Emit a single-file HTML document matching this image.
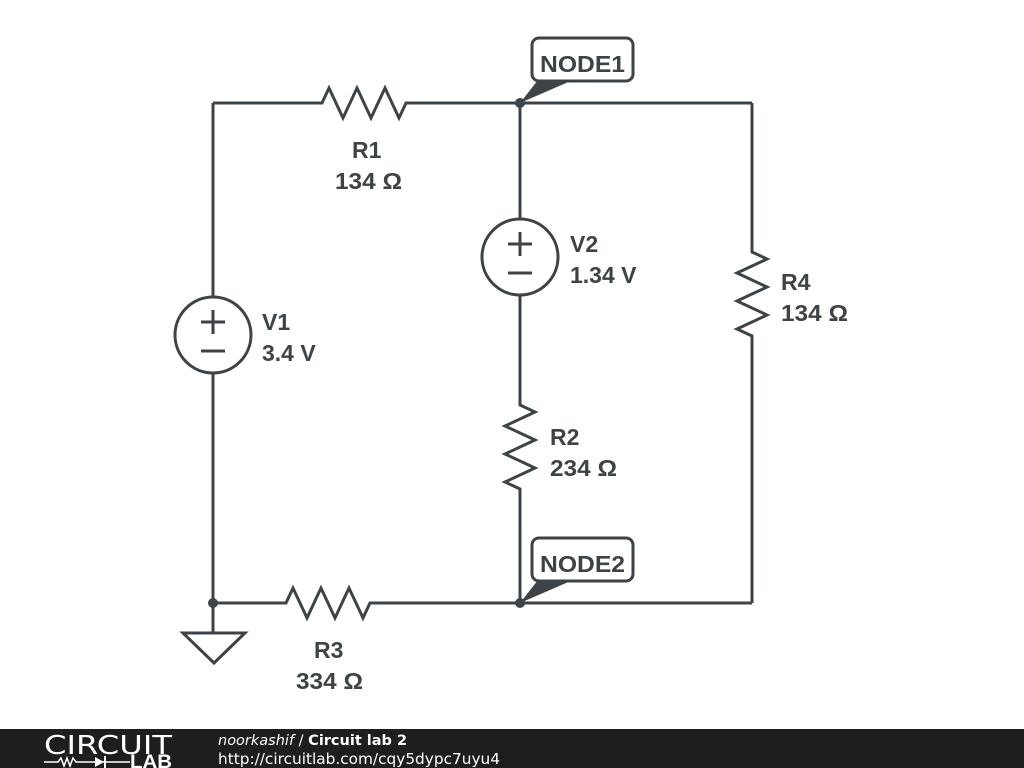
<!DOCTYPE html>
<html><head><style>
body{margin:0;width:1024px;height:768px;background:#fff;overflow:hidden;position:relative;font-family:"Liberation Sans",sans-serif}
svg{position:absolute;left:0;top:0}
</style></head><body>
<svg width="1024" height="768" viewBox="0 0 1024 768">
<g stroke="#3d4347" stroke-width="3" fill="none" stroke-linejoin="miter">
<polyline points="213,103 322,103 329,88 343,118 357,88 371,118 385,88 399,118 406,103 752,103"/>
<line x1="213" y1="103" x2="213" y2="297"/>
<circle cx="213" cy="335" r="38"/>
<line x1="213" y1="373" x2="213" y2="633"/>
<polygon points="183,633 245,633 214,663"/>
<polyline points="213,603 286,603 293,588 307,618 321,588 335,618 349,588 363,618 370,603 752,603"/>
<line x1="520" y1="103" x2="520" y2="219"/>
<circle cx="520" cy="257" r="38"/>
<polyline points="520,295 520,405 535,412 505,426 535,440 505,454 535,468 505,482 520,489 520,603"/>
<polyline points="752,103 752,252 767,259 737,273 767,287 737,301 767,315 737,329 752,336 752,603"/>
<line x1="201" y1="322" x2="225" y2="322"/><line x1="213" y1="310" x2="213" y2="334"/>
<line x1="201" y1="351" x2="225" y2="351"/>
<line x1="508" y1="244" x2="532" y2="244"/><line x1="520" y1="232" x2="520" y2="256"/>
<line x1="508" y1="273" x2="532" y2="273"/>
<rect x="532" y="38" width="101" height="43" rx="7" fill="#fff"/>
<rect x="532" y="538" width="101" height="43" rx="7" fill="#fff"/>
</g>
<g fill="#3d4347">
<circle cx="213" cy="603" r="5"/>
<circle cx="520" cy="103" r="5"/>
<circle cx="520" cy="603" r="5"/>
<polygon points="520,103 538,80 573,80"/>
<polygon points="520,603 538,580 573,580"/>
</g>
<g fill="#3d4347" font-family="Liberation Sans,sans-serif" font-weight="bold" font-size="23">
<text x="540" y="72" textLength="85" lengthAdjust="spacingAndGlyphs">NODE1</text>
<text x="540" y="572" textLength="85" lengthAdjust="spacingAndGlyphs">NODE2</text>
<text x="352" y="158">R1</text><text x="335" y="189" textLength="67" lengthAdjust="spacingAndGlyphs">134 Ω</text>
<text x="262" y="330">V1</text><text x="262" y="361">3.4 V</text>
<text x="570" y="252">V2</text><text x="570" y="283">1.34 V</text>
<text x="781" y="290">R4</text><text x="781" y="321" textLength="67" lengthAdjust="spacingAndGlyphs">134 Ω</text>
<text x="550" y="445">R2</text><text x="550" y="476" textLength="67" lengthAdjust="spacingAndGlyphs">234 Ω</text>
<text x="314" y="658">R3</text><text x="296" y="689" textLength="67" lengthAdjust="spacingAndGlyphs">334 Ω</text>
</g>
<rect x="0" y="729" width="1024" height="39" fill="#1e1e1e"/>
<text x="44" y="754" fill="#fff" font-family="DejaVu Sans,sans-serif" font-size="26" font-weight="normal" textLength="128" lengthAdjust="spacingAndGlyphs">CIRCUIT</text>
<g stroke="#fff" stroke-width="1.5" fill="none">
<polyline points="44,762 58,762 61,758 64,766 67,758 70,766 73,758 76,762 85,762"/>
<line x1="85" y1="762" x2="130" y2="762"/>
</g>
<polygon points="95,757 95,767 104,762" fill="#fff"/>
<rect x="104" y="756" width="2" height="12" fill="#fff"/>
<text x="130" y="768" fill="#fff" font-family="Liberation Sans,sans-serif" font-size="19" font-weight="bold" textLength="42" lengthAdjust="spacingAndGlyphs">LAB</text>
<text x="218" y="745" fill="#fff" font-family="DejaVu Sans,sans-serif" font-size="14.5"><tspan font-style="italic">noorkashif</tspan> / <tspan font-weight="bold">Circuit lab 2</tspan></text>
<text x="218" y="764" fill="#fff" font-family="DejaVu Sans,sans-serif" font-size="15.5" textLength="282" lengthAdjust="spacingAndGlyphs">http://circuitlab.com/cqy5dypc7uyu4</text>
</svg>
</body></html>
